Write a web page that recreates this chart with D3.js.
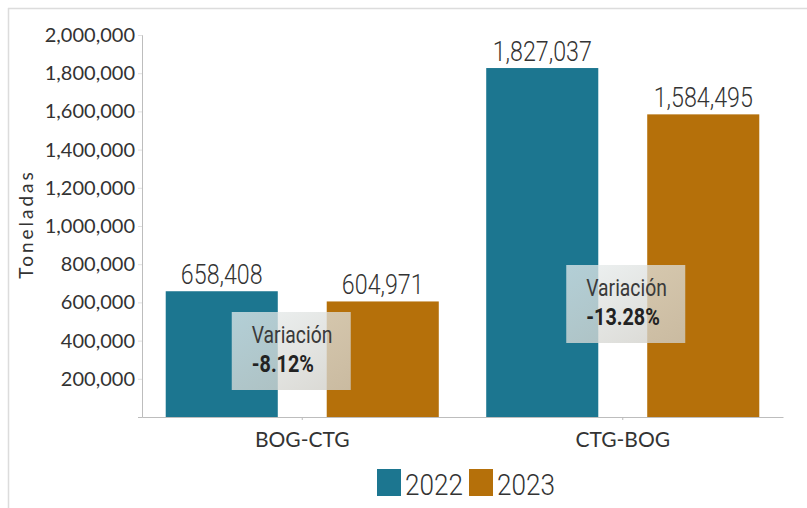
<!DOCTYPE html>
<html>
<head>
<meta charset="utf-8">
<script src="https://cdn.jsdelivr.net/npm/d3@7"></script>
<style>
  html, body { margin: 0; padding: 0; background: #ffffff; }
  svg { display: block; }
</style>
</head>
<body>
<svg id="chart" width="807" height="508"></svg>
<script>
// ---- data ----
const categories = ["BOG-CTG", "CTG-BOG"];
const years = ["2022", "2023"];
const values2022 = [658408, 1827037];
const values2023 = [604971, 1584495];
const yTickValues = [200000, 400000, 600000, 800000, 1000000, 1200000, 1400000, 1600000, 1800000, 2000000];
const variationTitle = "Variación";
const variationLabels = ["-8.12%", "-13.28%"];
const yAxisTitle = "Toneladas";

// ---- layout / style ----
const W = 807, H = 508;
const margin = { top: 35, right: 24, bottom: 91, left: 142 };
const colors = { "2022": "#1c7690", "2023": "#b5700a" };
const textColor = "#333333";
const axisColor = "#bdbdbd";
const narrow = "Roboto, 'Liberation Sans', sans-serif";
const geo = "Lato, 'Open Sans', sans-serif";

const svg = d3.select("#chart");

// frame lines
svg.append("line").attr("x1", 8.5).attr("x2", 8.5).attr("y1", 8).attr("y2", H)
  .attr("stroke", "#dcdcdc").attr("stroke-width", 1.5);
svg.append("line").attr("x1", 8).attr("x2", W).attr("y1", 8.5).attr("y2", 8.5)
  .attr("stroke", "#dcdcdc").attr("stroke-width", 1.5);

const x0 = d3.scaleBand().domain(categories)
  .range([margin.left, W - margin.right])
  .paddingInner(0.148).paddingOuter(0.074);
const x1 = d3.scaleBand().domain(years)
  .range([0, x0.bandwidth()])
  .paddingInner(0.304).paddingOuter(0);
const y = d3.scaleLinear().domain([0, 2000000]).range([H - margin.bottom, margin.top]);

const rows = categories.map((c, i) => ({ cat: c, vals: [
  { year: "2022", value: values2022[i] },
  { year: "2023", value: values2023[i] }
]}));

// axes
const yAxis = svg.append("g")
  .attr("transform", `translate(${margin.left},0)`)
  .call(d3.axisLeft(y).tickValues(yTickValues).tickFormat(d3.format(",")).tickSize(4).tickPadding(3));
yAxis.select(".domain").attr("stroke", axisColor);
yAxis.selectAll(".tick line").attr("stroke", "#e0e0e0");
yAxis.selectAll("text").attr("fill", textColor).style("font-family", geo).style("font-size", "20px");

const xAxis = svg.append("g")
  .attr("transform", `translate(0,${H - margin.bottom})`)
  .call(d3.axisBottom(x0).tickSize(3).tickPadding(12).tickSizeOuter(0));
xAxis.select(".domain").attr("stroke", axisColor);
xAxis.selectAll(".tick line").attr("stroke", axisColor);
xAxis.selectAll("text").attr("fill", textColor).style("font-family", geo).style("font-size", "21px");

// y axis title
svg.append("text")
  .attr("transform", `translate(33,224) rotate(-90)`)
  .attr("text-anchor", "middle")
  .attr("fill", textColor)
  .style("font-family", geo).style("font-size", "19px").style("letter-spacing", "3px")
  .text(yAxisTitle);

// bars
const groups = svg.selectAll("g.grp").data(rows).join("g")
  .attr("class", "grp")
  .attr("transform", d => `translate(${x0(d.cat)},0)`);

groups.selectAll("rect").data(d => d.vals).join("rect")
  .attr("x", d => x1(d.year))
  .attr("width", x1.bandwidth())
  .attr("y", d => y(d.value))
  .attr("height", d => y(0) - y(d.value))
  .attr("fill", d => colors[d.year]);

groups.selectAll("text.val").data(d => d.vals).join("text")
  .attr("class", "val")
  .attr("transform", d => `translate(${x1(d.year) + x1.bandwidth() / 2},${y(d.value) - 7}) scale(0.83,1)`)
  .attr("text-anchor", "middle")
  .attr("fill", textColor)
  .style("font-family", narrow).style("font-size", "28px").style("font-weight", 300)
  .text(d => d3.format(",")(d.value));

// variation annotations
const defs = svg.append("defs");
const grad = defs.append("linearGradient").attr("id", "boxGrad")
  .attr("x1", "0").attr("y1", "0").attr("x2", "1").attr("y2", "1");
grad.append("stop").attr("offset", "0").attr("stop-color", "#e8eeef").attr("stop-opacity", 0.74);
grad.append("stop").attr("offset", "1").attr("stop-color", "#cfcdc6").attr("stop-opacity", 0.8);

const annBoxW = 119, annBoxH = 78;
const annDx = [-11, 3];      // horizontal offset of box centre from group centre
const annTopY = [312, 265];  // box top (px)
rows.forEach((r, i) => {
  const cx = x0(r.cat) + x0.bandwidth() / 2 + annDx[i];
  const g = svg.append("g").attr("transform", `translate(${cx - annBoxW / 2},${annTopY[i]})`);
  g.append("rect").attr("width", annBoxW).attr("height", annBoxH).attr("fill", "url(#boxGrad)");
  g.append("text").attr("transform", "translate(20,31) scale(0.84,1)")
    .attr("fill", "#3a3a3a").style("font-family", narrow).style("font-size", "23px")
    .text(variationTitle);
  g.append("text").attr("transform", "translate(20,60) scale(0.86,1)")
    .attr("fill", "#222").style("font-family", narrow).style("font-size", "23px").style("font-weight", "bold")
    .text(variationLabels[i]);
});

// legend
const legendX = [377, 469];
const legend = svg.selectAll("g.leg").data(years).join("g")
  .attr("class", "leg")
  .attr("transform", (d, i) => `translate(${legendX[i]},469)`);
legend.append("rect").attr("width", 24).attr("height", 27).attr("fill", d => colors[d]);
legend.append("text").attr("transform", "translate(28,26) scale(0.87,1)")
  .attr("fill", textColor).style("font-family", narrow).style("font-size", "30px").style("font-weight", 300)
  .text(d => d);
</script>
</body>
</html>
